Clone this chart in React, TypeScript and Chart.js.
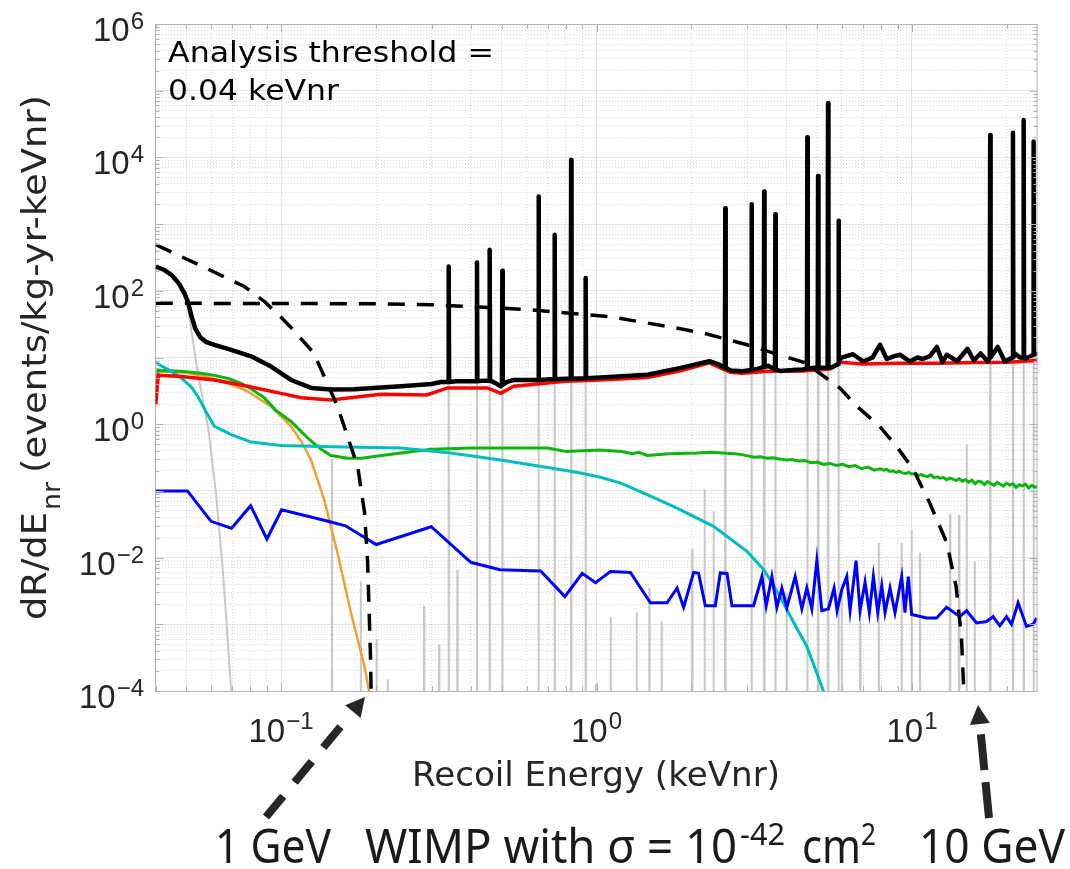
import React, { useEffect, useRef } from "react";
import { Chart, registerables } from "chart.js";

Chart.register(...registerables);

// ---------------- axes ----------------
const X_MIN = 0.04;
const X_MAX = 25;
const Y_MIN = 1e-4;
const Y_MAX = 1e6;
const xTickValues = [0.04, 0.05, 0.06, 0.07, 0.08, 0.09, 0.1, 0.2, 0.3, 0.4, 0.5, 0.6, 0.7, 0.8, 0.9, 1, 2, 3, 4, 5, 6, 7, 8, 9, 10, 20];
const yMantissas = [1, 2, 3, 4, 5, 6, 7, 8, 9];
const yDecades = [-4, -3, -2, -1, 0, 1, 2, 3, 4, 5];
const xLabelExponents = [-1, 0, 1];
const yLabelExponents = [-4, -2, 0, 2, 4, 6];
const yTickValues = yDecades.flatMap((d) => yMantissas.map((m) => m * Math.pow(10, d))).concat([1e6]);

// ---------------- data: [energy keVnr, rate] ----------------
// total (black) continuum
const totalBase = [
  [0.0401, 231], [0.0425, 207], [0.045, 172], [0.0475, 128], [0.0495, 90], [0.0507, 68], [0.052, 42],
  [0.0535, 27], [0.0555, 20], [0.058, 17], [0.0615, 15.5], [0.0695, 13], [0.0804, 10.4], [0.093, 7.3],
  [0.1076, 4.6], [0.1245, 3.5], [0.144, 3.3], [0.17, 3.35], [0.24, 3.7], [0.3, 4.0], [0.321, 4.3],
  [0.36, 4.4], [0.44, 4.5], [0.48, 4.1], [0.497, 3.7], [0.52, 4.3], [0.547, 4.6], [0.6, 4.6], [0.7, 4.7],
  [0.8, 4.8], [1.03, 5.0], [1.45, 5.5], [1.85, 7.0], [2.28, 8.8], [2.45, 7.8], [2.66, 6.4], [2.9, 6.2],
  [3.25, 6.8], [3.5, 7.5], [3.82, 6.3], [4.2, 6.5], [4.5, 6.6], [4.9, 7.0], [5.2, 7.0], [5.6, 7.2],
  [5.92, 9.8], [6.5, 11.2], [7.01, 8.7], [7.5, 10.0], [7.92, 15.5], [8.32, 9.5], [8.8, 10.5], [9.16, 11],
  [9.86, 8.7], [10.4, 10], [10.8, 9.5], [11.4, 10.5], [12.0, 14.4], [12.5, 8.5], [12.9, 11], [13.9, 8.8],
  [15.0, 13.5], [15.7, 9], [16.5, 11.5], [17.4, 8.7], [18.7, 14.4], [19.7, 8.7], [21.2, 11.5], [22.0, 10],
  [22.9, 9.6], [23.8, 10.5], [24.6, 11.5], [25, 11],
];
// activation lines on the total: [energy, peak, local continuum]
const totalLines = [
  [0.34, 231, 4.3], [0.418, 265, 4.4], [0.4585, 411, 4.5], [0.503, 200, 3.9], [0.655, 2590, 4.6],
  [0.737, 690, 4.7], [0.831, 9180, 4.8], [0.924, 155, 4.9], [2.56, 1730, 7.0], [3.1, 1990, 6.5],
  [3.4, 3080, 7.2], [3.69, 1410, 6.6], [4.66, 20000, 6.8], [5.04, 5280, 7.0], [5.42, 64900, 7.1],
  [5.85, 1120, 8.0], [17.7, 21700, 10], [20.9, 23500, 10], [22.6, 36500, 10], [24.3, 17300, 11],
];
const redSeries = [
  [0.0401, 2.0], [0.0408, 5.4], [0.0483, 5.2], [0.0615, 4.6], [0.0784, 3.7], [0.1, 2.9], [0.116, 2.5],
  [0.144, 2.3], [0.207, 2.8], [0.29, 2.75], [0.337, 3.5], [0.451, 3.5], [0.497, 2.9], [0.547, 3.7],
  [0.8, 4.4], [1.03, 4.6], [1.45, 5.0], [1.85, 6.3], [2.28, 8.3], [2.5, 6.8], [2.66, 6.0], [2.9, 5.8],
  [3.5, 6.2], [4.5, 6.3], [5.5, 6.7], [5.92, 8.5], [7, 8.0], [9, 8.2], [12, 8.2], [16, 8.4], [20, 8.5], [25, 9],
];
const greenSeries = [
  [0.0401, 2.2], [0.0408, 6.4], [0.0483, 6.2], [0.0558, 5.8], [0.0615, 5.4], [0.0684, 4.8], [0.0747, 4.1],
  [0.0804, 3.4], [0.0884, 2.5], [0.0964, 1.6], [0.1076, 1.1], [0.1157, 0.78], [0.1245, 0.56], [0.134, 0.42],
  [0.144, 0.34], [0.1626, 0.31], [0.18, 0.31], [0.2, 0.33], [0.24, 0.37], [0.3, 0.42], [0.4, 0.44],
  [0.55, 0.44], [0.7, 0.44], [0.8, 0.39], [0.9, 0.4], [1.03, 0.41], [1.2, 0.39], [1.3, 0.36], [1.36, 0.38],
  [1.45, 0.34], [1.7, 0.36], [2.08, 0.37], [2.3, 0.38],
  [2.51, 0.37], [2.63, 0.365], [2.75, 0.36], [2.88, 0.35], [3.02, 0.335], [3.16, 0.32], [3.31, 0.325],
  [3.47, 0.31], [3.63, 0.315], [3.8, 0.3], [3.98, 0.29], [4.17, 0.295], [4.37, 0.28], [4.57, 0.285],
  [4.79, 0.265], [5.01, 0.27], [5.25, 0.25], [5.5, 0.258], [5.75, 0.24], [6.03, 0.25], [6.31, 0.23],
  [6.61, 0.24], [6.92, 0.215], [7.24, 0.228], [7.59, 0.205],
  [7.94, 0.215], [8.13, 0.205], [8.32, 0.21], [8.51, 0.196], [8.71, 0.2], [8.91, 0.19], [9.12, 0.198],
  [9.33, 0.186], [9.55, 0.183], [9.77, 0.19], [10.0, 0.178], [10.23, 0.184], [10.47, 0.17], [10.72, 0.176],
  [10.96, 0.168], [11.22, 0.164], [11.48, 0.174], [11.75, 0.158], [12.02, 0.163], [12.3, 0.155], [12.59, 0.16],
  [12.88, 0.147], [13.18, 0.156], [13.49, 0.15], [13.8, 0.143], [14.13, 0.152], [14.45, 0.14], [14.79, 0.147],
  [15.14, 0.135], [15.49, 0.145], [15.85, 0.128], [16.22, 0.14], [16.6, 0.136], [16.98, 0.125], [17.38, 0.138],
  [17.78, 0.129], [18.2, 0.121], [18.62, 0.134], [19.05, 0.126], [19.5, 0.118], [19.95, 0.131], [20.42, 0.122],
  [20.89, 0.128], [21.38, 0.113], [21.88, 0.124], [22.39, 0.119], [22.91, 0.126], [23.44, 0.111], [23.99, 0.121],
  [24.55, 0.113], [25.0, 0.118],
];
const cyanSeries = [
  [0.0401, 8.3], [0.0445, 6.4], [0.0483, 4.9], [0.052, 3.6], [0.0545, 2.6], [0.058, 1.5], [0.0615, 0.93],
  [0.0695, 0.7], [0.0804, 0.54], [0.1, 0.48], [0.144, 0.46], [0.24, 0.44], [0.345, 0.37], [0.497, 0.29],
  [0.715, 0.22], [0.89, 0.186], [1.03, 0.16], [1.2, 0.13], [1.447, 0.088], [1.8, 0.055], [2.35, 0.0294],
  [3.0, 0.0124], [3.4, 0.0065], [3.82, 0.0026], [4.2, 0.0011], [4.64, 4.7e-4], [5.24, 1e-4], [5.4, 6e-5],
];
const orangeSeries = [
  [0.0401, 6.2], [0.05, 5.9], [0.0558, 5.4], [0.0615, 4.8], [0.07, 3.9], [0.0784, 3.1], [0.093, 1.85],
  [0.1076, 0.93], [0.116, 0.55], [0.1245, 0.29], [0.137, 0.074], [0.151, 0.0117], [0.1665, 0.0015],
  [0.184, 2.3e-4], [0.19, 1e-4], [0.195, 4e-5],
];
const blueSeries = [
  [0.0401, 0.1], [0.0505, 0.1], [0.06, 0.035], [0.0697, 0.0275], [0.0801, 0.06], [0.0902, 0.019],
  [0.1004, 0.052], [0.141, 0.035], [0.16, 0.03], [0.2003, 0.0157], [0.2993, 0.029], [0.3995, 0.0085],
  [0.4945, 0.0066], [0.665, 0.0063], [0.794, 0.0026], [0.901, 0.0058], [0.993, 0.0042], [1.107, 0.0062],
  [1.281, 0.006], [1.482, 0.0021], [1.674, 0.0021], [1.8, 0.0035], [1.889, 0.0018], [2.032, 0.006],
  [2.107, 0.0058], [2.213, 0.0019], [2.38, 0.0019], [2.469, 0.0059], [2.593, 0.0058], [2.688, 0.0019],
  [3.147, 0.0019], [3.345, 0.0052], [3.451, 0.0019], [3.597, 0.0052], [3.731, 0.0018], [3.869, 0.0035],
  [4.013, 0.0018], [4.264, 0.0052], [4.477, 0.0017], [4.643, 0.0035], [4.815, 0.0017], [4.994, 0.0091],
  [5.179, 0.0016], [5.434, 0.0017], [5.665, 0.0035], [5.79, 0.0016], [5.991, 0.0033], [6.214, 0.0052],
  [6.366, 0.0016], [6.65, 0.009], [6.847, 0.0016], [7.101, 0.0043], [7.327, 0.0015], [7.545, 0.0052],
  [7.791, 0.0015], [8.021, 0.0038], [8.216, 0.0015], [8.52, 0.0035], [8.836, 0.0015], [9.277, 0.0052],
  [9.502, 0.0015], [9.734, 0.0052], [9.98, 0.0014], [11.13, 0.00124], [11.97, 0.00124], [12.88, 0.0018],
  [14.19, 0.0013], [14.9, 0.0016], [16.02, 0.00105], [17.23, 0.0011], [18.08, 0.0013], [18.99, 0.00095],
  [19.94, 0.0013], [20.68, 0.001], [21.7, 0.0021], [23.07, 0.00093], [24.21, 0.001], [24.87, 0.00124],
];
// thin grey component: low-energy curve plus line features
const greyCurve = [
  [0.0401, 225], [0.0425, 200], [0.045, 165], [0.0475, 120], [0.0495, 80], [0.0507, 55], [0.052, 25],
  [0.0545, 5.8], [0.0589, 0.83], [0.0623, 0.085], [0.0655, 0.0059], [0.0695, 1e-4], [0.0725, 1e-6],
];
const greyLines = [
  [0.145, 0.3], [0.179, 0.0044], [0.201, 6e-4], [0.218, 1.5e-4], [0.284, 0.0019], [0.317, 5e-4],
  [0.34, 231], [0.362, 0.0066], [0.418, 265], [0.4585, 411], [0.503, 200], [0.655, 2590], [0.737, 690],
  [0.831, 9180], [0.924, 155], [0.995, 1.3e-4], [1.11, 0.0013], [1.34, 0.0015], [1.47, 0.0035],
  [1.61, 0.0011], [2.01, 0.0137], [2.2, 0.107], [2.35, 0.049], [2.56, 1730], [3.1, 1990], [3.4, 3080],
  [3.69, 1410], [4.01, 0.003], [4.66, 20000], [5.04, 5280], [5.42, 64900], [5.85, 1120], [5.99, 0.004],
  [6.85, 0.002], [7.85, 0.0166], [9.27, 0.0166], [9.98, 0.026], [10.6, 0.0118], [13.2, 0.0455],
  [14.1, 0.044], [14.9, 0.5], [15.8, 0.0088], [17.7, 21700], [20.9, 23500], [22.6, 36500], [24.3, 17300],
];
const GREY_FLOOR = 1e-7;
const wimp1GeV = [
  [0.0401, 490], [0.0555, 240], [0.0765, 116], [0.089, 68], [0.1, 40], [0.107, 29], [0.127, 11.7],
  [0.151, 1.85], [0.175, 0.23], [0.184, 0.047], [0.188, 0.0093], [0.192, 3.7e-4], [0.193, 1e-4], [0.1935, 1e-5],
];
const wimp10GeV = [
  [0.0401, 65], [0.2, 64], [0.3, 62], [0.618, 52], [1.1, 41], [1.77, 28], [2.2, 23], [3.0, 15.5],
  [4.6, 8.3], [5.1, 5.8], [5.9, 3.5], [6.7, 1.85], [7.9, 0.93], [8.95, 0.46], [10.1, 0.21], [11.4, 0.065],
  [12.9, 0.0166], [13.8, 0.0037], [14.35, 6.4e-4], [14.6, 1e-4], [14.65, 1e-5],
];

// ---------------- helpers ----------------
const isMajor = (v: number) => Math.abs(Math.log10(v) - Math.round(Math.log10(v))) < 1e-9;
const pts = (arr: number[][]) => arr.map(([x, y]) => ({ x, y }));
const byX = (a: any, b: any) => a.x - b.x;

function totalWithLines() {
  const out = pts(totalBase);
  for (const [e, peak, base] of totalLines) {
    out.push({ x: e / 1.003, y: base }, { x: e, y: peak }, { x: e * 1.003, y: base });
  }
  return out.sort(byX);
}
function greyWithLines() {
  const out = pts(greyCurve);
  for (const [e, peak] of greyLines) {
    out.push({ x: e / 1.0025, y: GREY_FLOOR }, { x: e, y: peak }, { x: e * 1.0025, y: GREY_FLOOR });
  }
  return out.sort(byX);
}

const AXIS_COLOR = "#b3b3b3";
const TEXT_COLOR = "#262626";
const MATLAB_FONT = '"DejaVu Sans", sans-serif';
const TICK_FONT = '"Liberation Sans", Arial, sans-serif';
const NOTE_FONT = '"Noto Sans", "Open Sans", sans-serif';

function fitText(ctx: CanvasRenderingContext2D, text: string, x: number, y: number, width: number, font: string, color: string) {
  ctx.font = font;
  ctx.fillStyle = color;
  ctx.textAlign = "left";
  ctx.textBaseline = "alphabetic";
  const w = ctx.measureText(text).width;
  ctx.save();
  ctx.translate(x, y);
  ctx.scale(width / w, 1);
  ctx.fillText(text, 0, 0);
  ctx.restore();
}

function dashedArrow(ctx: CanvasRenderingContext2D, x0: number, y0: number, tx: number, ty: number, dash: number[]) {
  const dx = tx - x0, dy = ty - y0;
  const len = Math.hypot(dx, dy);
  const ux = dx / len, uy = dy / len;
  const headLen = 19, headHalf = 10;
  const bx = tx - ux * headLen, by = ty - uy * headLen;
  ctx.save();
  ctx.strokeStyle = TEXT_COLOR;
  ctx.fillStyle = TEXT_COLOR;
  ctx.lineWidth = 8;
  ctx.lineCap = "butt";
  ctx.setLineDash(dash);
  ctx.beginPath();
  ctx.moveTo(x0, y0);
  ctx.lineTo(bx - ux * 4, by - uy * 4);
  ctx.stroke();
  ctx.setLineDash([]);
  ctx.beginPath();
  ctx.moveTo(tx, ty);
  ctx.lineTo(bx - uy * headHalf, by + ux * headHalf);
  ctx.lineTo(bx + uy * headHalf, by - ux * headHalf);
  ctx.closePath();
  ctx.fill();
  ctx.restore();
}

const supText = (e: number) => (e < 0 ? "\u2212" + Math.abs(e) : String(e));

const decorations = {
  id: "decorations",
  beforeDraw(chart: any) {
    const ctx = chart.ctx;
    ctx.save();
    ctx.fillStyle = "#ffffff";
    ctx.fillRect(0, 0, chart.width, chart.height);
    ctx.restore();
  },
  afterDraw(chart: any) {
    const { ctx, chartArea: a, scales } = chart;
    const xs = scales.x, ys = scales.y;
    ctx.save();
    // box (top / right)
    ctx.strokeStyle = AXIS_COLOR;
    ctx.lineWidth = 1;
    ctx.beginPath();
    ctx.moveTo(a.left, a.top + 0.5);
    ctx.lineTo(a.right, a.top + 0.5);
    ctx.moveTo(a.right - 0.5, a.top);
    ctx.lineTo(a.right - 0.5, a.bottom);
    ctx.stroke();
    // inward tick marks
    ctx.beginPath();
    for (const v of xTickValues) {
      const px = Math.round(xs.getPixelForValue(v)) + 0.5;
      const len = isMajor(v) ? 8 : 5;
      ctx.moveTo(px, a.bottom);
      ctx.lineTo(px, a.bottom - len);
      ctx.moveTo(px, a.top);
      ctx.lineTo(px, a.top + len);
    }
    for (const v of yTickValues) {
      const py = Math.round(ys.getPixelForValue(v)) + 0.5;
      const len = isMajor(v) ? 8 : 4;
      ctx.moveTo(a.left, py);
      ctx.lineTo(a.left + len, py);
      ctx.moveTo(a.right, py);
      ctx.lineTo(a.right - len, py);
    }
    ctx.stroke();

    // tick labels with superscripts
    const baseFont = `33px ${TICK_FONT}`;
    const supFont = `24px ${TICK_FONT}`;
    ctx.fillStyle = TEXT_COLOR;
    ctx.textBaseline = "alphabetic";
    ctx.textAlign = "left";
    for (const e of xLabelExponents) {
      const px = xs.getPixelForValue(Math.pow(10, e));
      ctx.font = baseFont;
      const wb = ctx.measureText("10").width;
      ctx.font = supFont;
      const ws = ctx.measureText(supText(e)).width;
      const left = px - (wb + 1 + ws) / 2;
      ctx.font = baseFont;
      ctx.fillText("10", left, 742);
      ctx.font = supFont;
      ctx.fillText(supText(e), left + wb + 1, 729);
    }
    for (const e of yLabelExponents) {
      const py = ys.getPixelForValue(Math.pow(10, e));
      ctx.font = supFont;
      const ws = ctx.measureText(supText(e)).width;
      ctx.font = baseFont;
      const wb = ctx.measureText("10").width;
      const right = 144;
      ctx.font = baseFont;
      ctx.fillText("10", right - ws - 1 - wb, py + 17);
      ctx.font = supFont;
      ctx.fillText(supText(e), right - ws, py + 5);
    }

    // axis titles
    fitText(ctx, "Recoil Energy (keVnr)", 412, 786, 368, `33px ${MATLAB_FONT}`, TEXT_COLOR);
    ctx.save();
    ctx.translate(46, 620);
    ctx.rotate(-Math.PI / 2);
    fitText(ctx, "dR/dE", 0, 0, 108, `34px ${MATLAB_FONT}`, TEXT_COLOR);
    fitText(ctx, "nr", 110, 14, 28, `24px ${MATLAB_FONT}`, TEXT_COLOR);
    fitText(ctx, "(events/kg-yr-keVnr)", 147, 0, 378, `34px ${MATLAB_FONT}`, TEXT_COLOR);
    ctx.restore();

    // in-plot note
    fitText(ctx, "Analysis threshold =", 168, 62, 326, `28px ${MATLAB_FONT}`, "#000000");
    fitText(ctx, "0.04 keVnr", 168, 100, 171, `28px ${MATLAB_FONT}`, "#000000");

    // bottom annotation
    const big = `48px ${NOTE_FONT}`;
    const small = `31px ${NOTE_FONT}`;
    const noteColor = "#1a1a1a";
    fitText(ctx, "1 GeV", 215, 863, 116, big, noteColor);
    fitText(ctx, "WIMP with \u03c3 = 10", 365, 863, 372, big, noteColor);
    fitText(ctx, "-42", 740, 845, 45, small, noteColor);
    fitText(ctx, "cm", 802, 863, 59, big, noteColor);
    fitText(ctx, "2", 861, 845, 15, small, noteColor);
    fitText(ctx, "10 GeV", 919, 863, 146, big, noteColor);

    dashedArrow(ctx, 266, 817, 365, 697, [27, 18]);
    dashedArrow(ctx, 989, 818, 978, 705, [36, 12]);
    ctx.restore();
  },
};

function lineDs(label: string, data: any[], color: string, width: number, order: number, extra: any = {}) {
  return {
    label,
    data,
    borderColor: color,
    backgroundColor: color,
    borderWidth: width,
    pointRadius: 0,
    pointHoverRadius: 0,
    tension: 0,
    fill: false,
    clip: 0,
    order,
    ...extra,
  };
}

export default function App() {
  const canvasRef = useRef<HTMLCanvasElement | null>(null);

  useEffect(() => {
    if (!canvasRef.current) return;
    const gridColor = (ctx: any) => (ctx.tick && isMajor(ctx.tick.value) ? "rgba(0,0,0,0.10)" : "rgba(0,0,0,0.14)");
    const gridDash = (ctx: any) => (ctx.type === "tick" && ctx.tick && !isMajor(ctx.tick.value) ? [1, 2] : []);
    const chart = new Chart(canvasRef.current, {
      type: "line",
      data: {
        datasets: [
          lineDs("1 GeV WIMP", pts(wimp1GeV), "#000000", 3.5, 0, { borderDash: [17, 12] }),
          lineDs("10 GeV WIMP", pts(wimp10GeV), "#000000", 3.5, 0, { borderDash: [17, 12] }),
          lineDs("Total", totalWithLines(), "#000000", 4.5, 1, { borderJoinStyle: "round" }),
          lineDs("Red", pts(redSeries), "#ff0000", 3.5, 2),
          lineDs("Blue", pts(blueSeries), "#0000ff", 3, 3),
          lineDs("Cyan", pts(cyanSeries), "#00bdbd", 3, 4),
          lineDs("Green", pts(greenSeries), "#0fb40f", 3, 5),
          lineDs("Orange", pts(orangeSeries), "#eda033", 2.5, 6),
          lineDs("Grey", greyWithLines(), "#c8c8c8", 2, 7),
        ],
      },
      options: {
        animation: false,
        responsive: true,
        maintainAspectRatio: false,
        devicePixelRatio: 1,
        events: [],
        layout: { padding: { top: 24, right: 32.5, bottom: 0, left: 0 } },
        plugins: { legend: { display: false }, tooltip: { enabled: false }, title: { display: false } },
        scales: {
          x: {
            type: "logarithmic",
            position: "bottom",
            min: X_MIN,
            max: X_MAX,
            ticks: { display: false, autoSkip: false },
            grid: { color: gridColor, lineWidth: 1, drawTicks: false },
            border: { display: true, color: AXIS_COLOR, dash: gridDash },
            afterBuildTicks: (s: any) => {
              s.ticks = xTickValues.map((v) => ({ value: v, major: isMajor(v) }));
            },
            afterFit: (s: any) => {
              s.height = 178;
            },
          },
          y: {
            type: "logarithmic",
            position: "left",
            min: Y_MIN,
            max: Y_MAX,
            ticks: { display: false, autoSkip: false },
            grid: { color: gridColor, lineWidth: 1, drawTicks: false },
            border: { display: true, color: AXIS_COLOR, dash: gridDash },
            afterBuildTicks: (s: any) => {
              s.ticks = yTickValues.map((v) => ({ value: v, major: isMajor(v) }));
            },
            afterFit: (s: any) => {
              s.width = 155.5;
            },
          },
        },
      },
      plugins: [decorations],
    } as any);
    return () => chart.destroy();
  }, []);

  return (
    <div style={{ position: "fixed", left: 0, top: 0, width: 1070, height: 869, background: "#fff" }}>
      <canvas ref={canvasRef} style={{ display: "block" }} />
    </div>
  );
}
